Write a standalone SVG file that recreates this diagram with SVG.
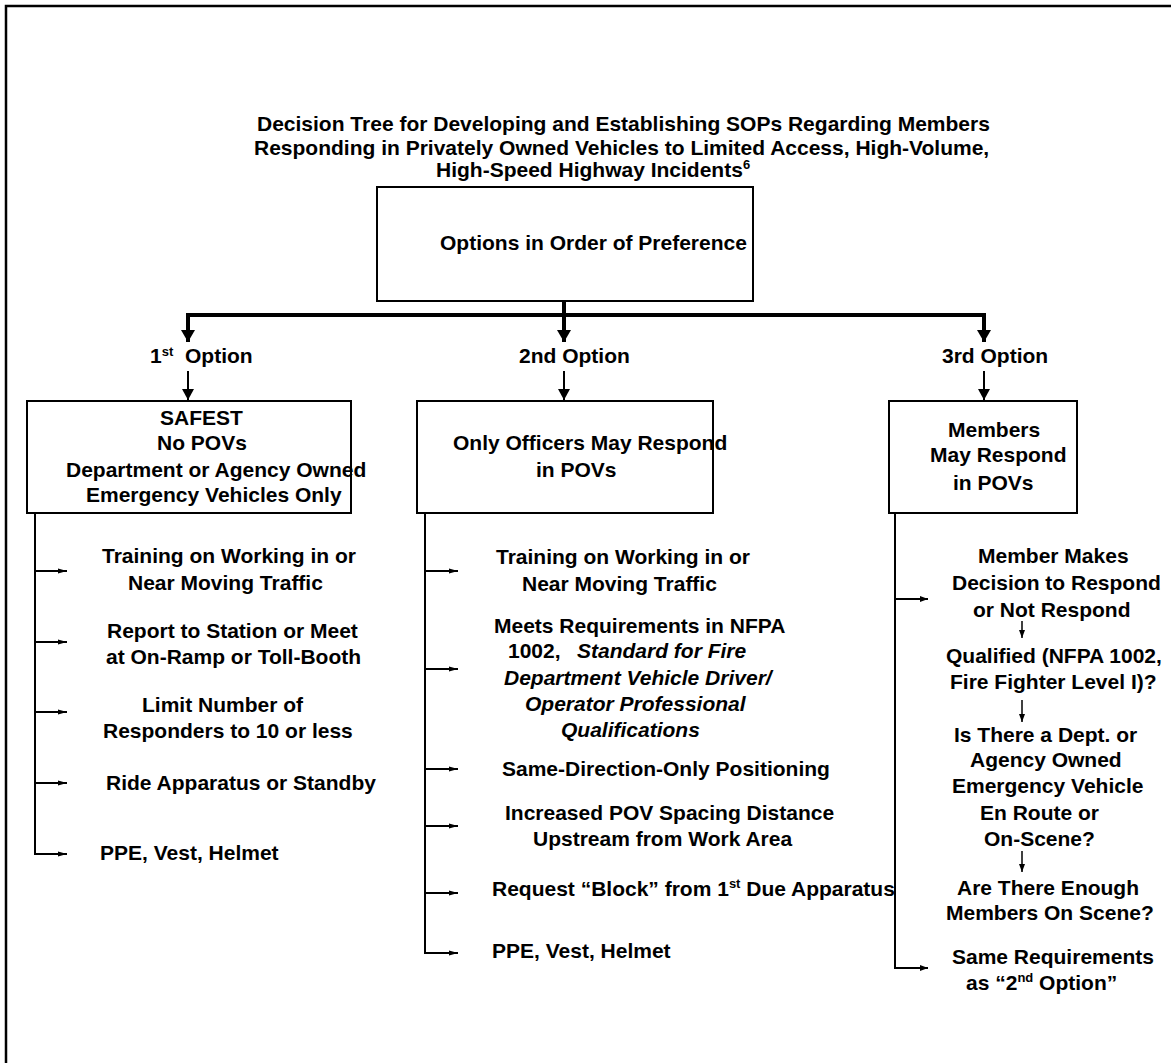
<svg xmlns="http://www.w3.org/2000/svg" width="1171" height="1063" viewBox="0 0 1171 1063">
<defs>
<style>
text{font-family:"Liberation Sans",Arial,sans-serif;font-weight:bold;font-size:21px;fill:#000}
.it{font-style:italic}
.sup{font-size:13px}
.box{fill:#fff;stroke:#000;stroke-width:2}
.thick{fill:none;stroke:#000;stroke-width:4}
.mid{fill:none;stroke:#000;stroke-width:2}
.thin{fill:none;stroke:#000;stroke-width:2}
.hair{fill:none;stroke:#000;stroke-width:1.5}
</style>
<marker id="ahBig" markerUnits="userSpaceOnUse" markerWidth="14" markerHeight="14" refX="12" refY="7" orient="auto"><path d="M0,0 L12,7 L0,14 z" fill="#000"/></marker>
<marker id="ahMid" markerUnits="userSpaceOnUse" markerWidth="12" markerHeight="12" refX="11" refY="6" orient="auto"><path d="M0,0 L11,6 L0,12 z" fill="#000"/></marker>
<marker id="ahSmall" markerUnits="userSpaceOnUse" markerWidth="9" markerHeight="6" refX="9" refY="3" orient="auto"><path d="M0,0.5 L9,3 L0,5.5 z" fill="#000"/></marker>
<marker id="ahTiny" markerUnits="userSpaceOnUse" markerWidth="8" markerHeight="8" refX="8" refY="3" orient="auto"><path d="M0,0 L8,3 L0,6 z" fill="#000"/></marker>
</defs>
<rect width="1171" height="1063" fill="#fff"/>
<path d="M6,1063 V6 H1171" fill="none" stroke="#000" stroke-width="2.5"/>

<g id="title">
<text x="257" y="131">Decision Tree for Developing and Establishing SOPs Regarding Members</text>
<text x="254" y="155">Responding in Privately Owned Vehicles to Limited Access, High-Volume,</text>
<text x="436" y="177">High-Speed Highway Incidents<tspan class="sup" dy="-8">6</tspan></text>
</g>

<g id="root">
<rect class="box" x="377" y="187" width="376" height="114"/>
<text x="440" y="250">Options in Order of Preference</text>
</g>

<g id="opt1-label"><text x="150" y="363">1<tspan class="sup" dy="-7">st</tspan><tspan x="185" dy="7">Option</tspan></text></g>
<g id="opt2-label"><text x="519" y="363">2nd Option</text></g>
<g id="opt3-label"><text x="942" y="363">3rd Option</text></g>

<g id="opt1">
<rect class="box" x="27" y="401" width="324" height="112"/>
<text x="160" y="425">SAFEST</text>
<text x="157" y="450">No POVs</text>
<text x="66" y="477">Department or Agency Owned</text>
<text x="86" y="502">Emergency Vehicles Only</text>
</g>
<g id="opt2">
<rect class="box" x="417" y="401" width="296" height="112"/>
<text x="453" y="450">Only Officers May Respond</text>
<text x="536" y="477">in POVs</text>
</g>
<g id="opt3">
<rect class="box" x="889" y="401" width="188" height="112"/>
<text x="948" y="437">Members</text>
<text x="930" y="462">May Respond</text>
<text x="953" y="490">in POVs</text>
</g>

<g id="o1-training"><text x="102" y="563">Training on Working in or</text><text x="128" y="590">Near Moving Traffic</text></g>
<g id="o1-report"><text x="107" y="638">Report to Station or Meet</text><text x="106" y="664">at On-Ramp or Toll-Booth</text></g>
<g id="o1-limit"><text x="142" y="712">Limit Number of</text><text x="103" y="738">Responders to 10 or less</text></g>
<g id="o1-ride"><text x="106" y="790">Ride Apparatus or Standby</text></g>
<g id="o1-ppe"><text x="100" y="860">PPE, Vest, Helmet</text></g>

<g id="o2-training"><text x="496" y="564">Training on Working in or</text><text x="522" y="591">Near Moving Traffic</text></g>
<g id="o2-nfpa">
<text x="494" y="633">Meets Requirements in NFPA</text>
<text x="508" y="658">1002,<tspan class="it" x="577">Standard for Fire</tspan></text>
<text class="it" x="504" y="685">Department Vehicle Driver/</text>
<text class="it" x="525" y="711">Operator Professional</text>
<text class="it" x="561" y="737">Qualifications</text>
</g>
<g id="o2-same"><text x="502" y="776">Same-Direction-Only Positioning</text></g>
<g id="o2-spacing"><text x="505" y="820">Increased POV Spacing Distance</text><text x="533" y="846">Upstream from Work Area</text></g>
<g id="o2-block"><text x="492" y="896">Request “Block” from 1<tspan class="sup" dy="-8">st</tspan><tspan dy="8"> Due Apparatus</tspan></text></g>
<g id="o2-ppe"><text x="492" y="958">PPE, Vest, Helmet</text></g>

<g id="o3-decision"><text x="978" y="563">Member Makes</text><text x="952" y="590">Decision to Respond</text><text x="973" y="617">or Not Respond</text></g>
<g id="o3-qualified"><text x="946" y="663">Qualified (NFPA 1002,</text><text x="950" y="689">Fire Fighter Level I)?</text></g>
<g id="o3-vehicle"><text x="954" y="742">Is There a Dept. or</text><text x="970" y="767">Agency Owned</text><text x="952" y="793">Emergency Vehicle</text><text x="980" y="820">En Route or</text><text x="984" y="846">On-Scene?</text></g>
<g id="o3-enough"><text x="957" y="895">Are There Enough</text><text x="946" y="920">Members On Scene?</text></g>
<g id="o3-same"><text x="952" y="964">Same Requirements</text><text x="966" y="990">as “2<tspan class="sup" dy="-8">nd</tspan><tspan dy="8">  Option”</tspan></text></g>

<g id="connectors">
<path class="thick" d="M564,301 V342" marker-end="url(#ahBig)"/>
<path class="thick" d="M188,342 V315 H984 V342" />
<path class="thick" d="M188,330 V342" marker-end="url(#ahBig)"/>
<path class="thick" d="M984,330 V342" marker-end="url(#ahBig)"/>
<path class="mid" d="M188,371 V400" marker-end="url(#ahMid)"/>
<path class="mid" d="M564,371 V400" marker-end="url(#ahMid)"/>
<path class="mid" d="M984,371 V400" marker-end="url(#ahMid)"/>

<path class="thin" d="M35,513 V854 H67" marker-end="url(#ahSmall)"/>
<path class="thin" d="M35,571 H67" marker-end="url(#ahSmall)"/>
<path class="thin" d="M35,642 H67" marker-end="url(#ahSmall)"/>
<path class="thin" d="M35,712 H67" marker-end="url(#ahSmall)"/>
<path class="thin" d="M35,783 H67" marker-end="url(#ahSmall)"/>

<path class="thin" d="M425,513 V953 H458" marker-end="url(#ahSmall)"/>
<path class="thin" d="M425,571 H458" marker-end="url(#ahSmall)"/>
<path class="thin" d="M425,669 H458" marker-end="url(#ahSmall)"/>
<path class="thin" d="M425,769 H458" marker-end="url(#ahSmall)"/>
<path class="thin" d="M425,826 H458" marker-end="url(#ahSmall)"/>
<path class="thin" d="M425,893 H458" marker-end="url(#ahSmall)"/>

<path class="thin" d="M895,513 V968 H928" marker-end="url(#ahTiny)"/>
<path class="thin" d="M895,599 H928" marker-end="url(#ahTiny)"/>

<path class="hair" d="M1022,621 V638" marker-end="url(#ahTiny)"/>
<path class="hair" d="M1022,700 V722" marker-end="url(#ahTiny)"/>
<path class="hair" d="M1022,851 V872" marker-end="url(#ahTiny)"/>
</g>
</svg>
